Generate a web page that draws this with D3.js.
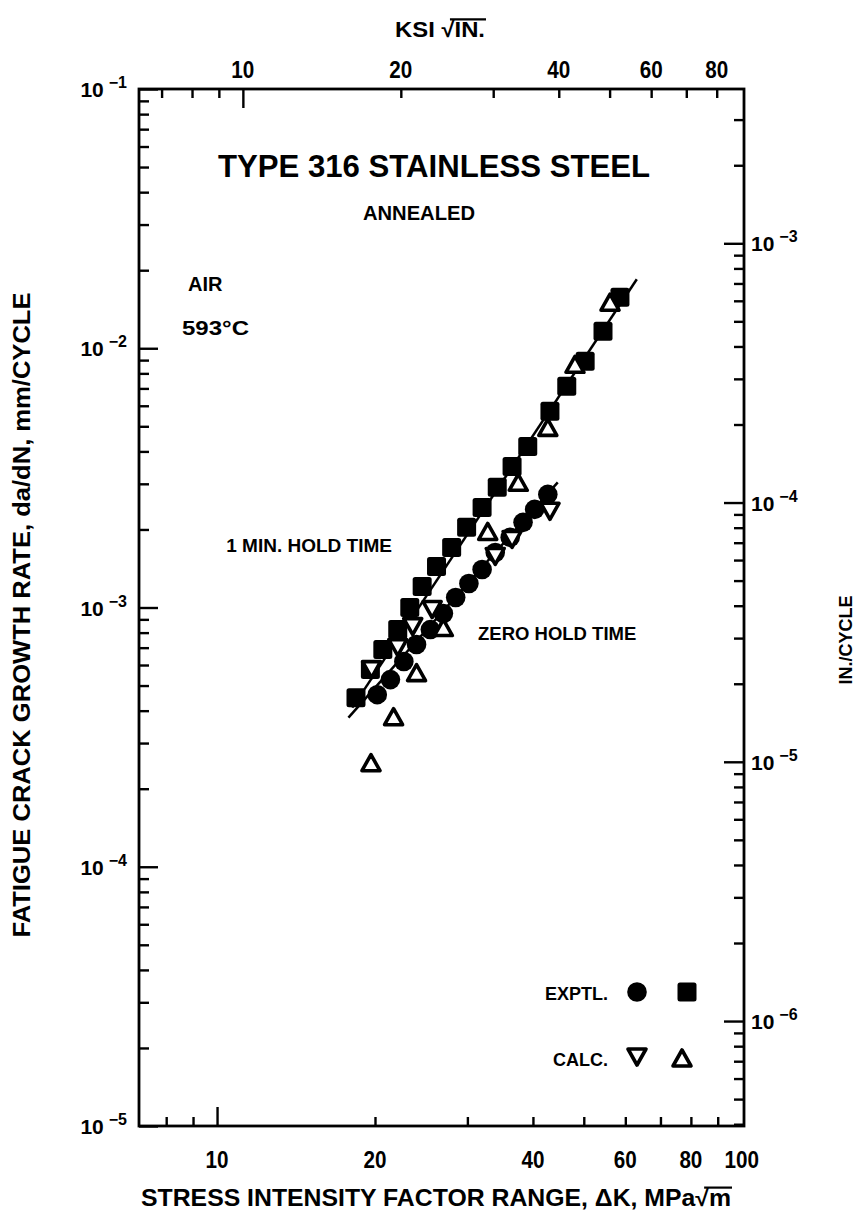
<!DOCTYPE html>
<html>
<head>
<meta charset="utf-8">
<script src="https://cdn.jsdelivr.net/npm/d3@7"></script>
<style>
  html, body { margin: 0; padding: 0; background: #fff; }
  svg { display: block; }
  text { font-family: "Liberation Sans", Arial, Helvetica, sans-serif; font-weight: bold; fill: #000; }
</style>
</head>
<body>
<svg id="chart" width="863" height="1225"></svg>
<script>
// ---------------- DATA ----------------
// Experimental, 1 min hold time (filled squares): ΔK (MPa√m), da/dN (mm/cycle)
const sqK    = [18.4, 19.6, 20.7, 22.1, 23.3, 24.6, 26.2, 28.0, 29.9, 32.0, 34.2, 36.5, 39.1, 43.1, 46.4, 50.3, 54.4, 58.6];
const sqRate = [4.49e-4, 5.76e-4, 6.88e-4, 8.23e-4, 1.00e-3, 1.205e-3, 1.44e-3, 1.705e-3, 2.04e-3, 2.43e-3, 2.91e-3, 3.50e-3, 4.18e-3, 5.71e-3, 7.13e-3, 8.91e-3, 1.163e-2, 1.573e-2];
// Experimental, zero hold time (filled circles)
const circK    = [20.2, 21.4, 22.7, 24.0, 25.5, 27.0, 28.5, 30.2, 32.0, 33.9, 36.2, 38.3, 40.3, 42.7];
const circRate = [4.61e-4, 5.27e-4, 6.19e-4, 7.20e-4, 8.22e-4, 9.48e-4, 1.093e-3, 1.238e-3, 1.402e-3, 1.63e-3, 1.864e-3, 2.13e-3, 2.39e-3, 2.73e-3];
// Calculated, 1 min hold time (open up-triangles)
const upK    = [19.65, 21.7, 24.0, 27.0, 32.8, 37.5, 42.7, 48.1, 56.1];
const upRate = [2.52e-4, 3.79e-4, 5.61e-4, 8.37e-4, 1.965e-3, 3.04e-3, 4.95e-3, 8.67e-3, 1.505e-2];
// Calculated, zero hold time (open down-triangles)
const dnK    = [19.7, 22.1, 23.6, 25.7, 33.9, 36.5, 43.1];
const dnRate = [5.76e-4, 7.0e-4, 8.44e-4, 9.82e-4, 1.574e-3, 1.83e-3, 2.35e-3];
// Fitted lines
const upperLineK = [18.1, 63.1];
const upperLineRate = [4.11e-4, 1.846e-2];
const lowerLineK = [17.8, 44.6];
const lowerLineRate = [3.76e-4, 3.04e-3];

// Axis ticks
const bottomTickLabels = [10, 20, 40, 60, 80, 100];
const bottomMinorTicks = [8, 9, 20, 30, 40, 50, 60, 70, 80, 90];
const bottomMajorTicks = [10];
const topTickLabels = [10, 20, 40, 60, 80];
const topMinorTicks = [7, 8, 9, 20, 30, 40, 50, 60, 70, 80];
const topMajorTicks = [10];
const leftExponents = [-1, -2, -3, -4, -5];
const rightExponents = [-3, -4, -5, -6];
const MM_PER_IN = 25.4;
const MPA_PER_KSI_DRAWN = 1.12; // as drawn on the original top scale (nominal 1.0988)

// ---------------- LAYOUT ----------------
const svg = d3.select("#chart");
const L = 139, R = 744, T = 89, B = 1126;

const x = d3.scaleLog().domain([7.1, 101]).range([L, R]);
const y = d3.scaleLog().domain([1e-5, 1e-1]).range([B, T]);
const xTop = d3.scaleLog().domain([7.1 / MPA_PER_KSI_DRAWN, 101 / MPA_PER_KSI_DRAWN]).range([L, R]);
const yRight = d3.scaleLog().domain([1e-5 / MM_PER_IN, 1e-1 / MM_PER_IN]).range([B, T]);

function minorLogTicks(scale) {
  const [a, b] = scale.domain();
  const out = [];
  for (let e = Math.floor(Math.log10(a)); e <= Math.ceil(Math.log10(b)); e++) {
    for (let m = 2; m <= 9; m++) {
      const v = m * Math.pow(10, e);
      if (v > a && v < b) out.push(v);
    }
  }
  return out;
}
function majorLogTicks(scale) {
  const [a, b] = scale.domain();
  const out = [];
  for (let e = Math.ceil(Math.log10(a) - 1e-9); e <= Math.floor(Math.log10(b) + 1e-9); e++) out.push(Math.pow(10, e));
  return out;
}

const axisStyle = g => {
  g.select(".domain").remove();
  g.selectAll(".tick line").attr("stroke", "#000").attr("stroke-width", 2.4);
  g.selectAll(".tick text").remove();
};

// left axis
svg.append("g").attr("transform", `translate(${L},0)`)
  .call(d3.axisLeft(y).tickValues(majorLogTicks(y)).tickSize(-19).tickSizeOuter(0)).call(axisStyle);
svg.append("g").attr("transform", `translate(${L},0)`)
  .call(d3.axisLeft(y).tickValues(minorLogTicks(y)).tickSize(-10).tickSizeOuter(0)).call(axisStyle);
// right axis (in/cycle)
svg.append("g").attr("transform", `translate(${R},0)`)
  .call(d3.axisRight(yRight).tickValues(majorLogTicks(yRight)).tickSize(-20).tickSizeOuter(0)).call(axisStyle);
svg.append("g").attr("transform", `translate(${R},0)`)
  .call(d3.axisRight(yRight).tickValues(minorLogTicks(yRight)).tickSize(-10).tickSizeOuter(0)).call(axisStyle);
// bottom axis
svg.append("g").attr("transform", `translate(0,${B})`)
  .call(d3.axisBottom(x).tickValues(bottomMinorTicks).tickSize(-9).tickSizeOuter(0)).call(axisStyle);
svg.append("g").attr("transform", `translate(0,${B})`)
  .call(d3.axisBottom(x).tickValues(bottomMajorTicks).tickSize(-19).tickSizeOuter(0)).call(axisStyle);
// top axis (ksi√in)
svg.append("g").attr("transform", `translate(0,${T})`)
  .call(d3.axisTop(xTop).tickValues(topMinorTicks).tickSize(-9).tickSizeOuter(0)).call(axisStyle);
svg.append("g").attr("transform", `translate(0,${T})`)
  .call(d3.axisTop(xTop).tickValues(topMajorTicks).tickSize(-19).tickSizeOuter(0)).call(axisStyle);

// frame
svg.append("rect").attr("x", L).attr("y", T).attr("width", R - L).attr("height", B - T)
  .attr("fill", "none").attr("stroke", "#000").attr("stroke-width", 2.8);

// tick labels (condensed digits)
const tickFont = 23;
const digitW = 11.5;
svg.append("g").selectAll("text").data(bottomTickLabels).join("text")
  .attr("x", d => x(d)).attr("y", B + 42).attr("text-anchor", "middle")
  .attr("font-size", tickFont).attr("textLength", d => String(d).length * digitW)
  .attr("lengthAdjust", "spacingAndGlyphs").text(d => d);
svg.append("g").selectAll("text").data(topTickLabels).join("text")
  .attr("x", d => xTop(d)).attr("y", T - 11).attr("text-anchor", "middle")
  .attr("font-size", tickFont).attr("textLength", d => String(d).length * digitW)
  .attr("lengthAdjust", "spacingAndGlyphs").text(d => d);

function expLabel(g, xPos, yPos, e, anchor) {
  const t = g.append("text").attr("x", xPos).attr("y", yPos).attr("text-anchor", anchor).attr("font-size", 21);
  t.append("tspan").text("10");
  t.append("tspan").attr("dx", 5).attr("dy", -9).attr("font-size", 16).text("\u2212" + Math.abs(e));
}
const leftLab = svg.append("g");
leftExponents.forEach(e => expLabel(leftLab, L - 12, y(Math.pow(10, e)) + 8, e, "end"));
const rightLab = svg.append("g");
rightExponents.forEach(e => expLabel(rightLab, R + 7, yRight(Math.pow(10, e)) + 8, e, "start"));

// fitted lines
const line = d3.line().x(d => x(d[0])).y(d => y(d[1]));
svg.append("path").datum(d3.zip(upperLineK, upperLineRate)).attr("d", line)
  .attr("fill", "none").attr("stroke", "#000").attr("stroke-width", 2.5);
svg.append("path").datum(d3.zip(lowerLineK, lowerLineRate)).attr("d", line)
  .attr("fill", "none").attr("stroke", "#000").attr("stroke-width", 2.5);

// markers
const S = 19;
function drawSquare(g, cx, cy) {
  g.append("rect").attr("x", cx - S / 2).attr("y", cy - S / 2).attr("width", S).attr("height", S)
    .attr("rx", 2.5).attr("fill", "#000");
}
function drawCircle(g, cx, cy) {
  g.append("circle").attr("cx", cx).attr("cy", cy).attr("r", 9.8).attr("fill", "#000");
}
function triPath(cx, cy, up) {
  const w = 9, h = 8;
  return up ? `M${cx},${cy - h}L${cx + w},${cy + h}L${cx - w},${cy + h}Z`
            : `M${cx},${cy + h}L${cx + w},${cy - h}L${cx - w},${cy - h}Z`;
}
function drawTri(g, cx, cy, up) {
  g.append("path").attr("d", triPath(cx, cy, up)).attr("fill", "#fff")
    .attr("stroke", "#000").attr("stroke-width", 3.6).attr("stroke-linejoin", "round");
}
const mk = svg.append("g");
d3.zip(sqK, sqRate).forEach(d => drawSquare(mk, x(d[0]), y(d[1])));
d3.zip(circK, circRate).forEach(d => drawCircle(mk, x(d[0]), y(d[1])));
d3.zip(dnK, dnRate).forEach(d => drawTri(mk, x(d[0]), y(d[1]), false));
d3.zip(upK, upRate).forEach(d => drawTri(mk, x(d[0]), y(d[1]), true));

// legend
const lg = svg.append("g");
lg.append("text").attr("x", 608).attr("y", 1000).attr("text-anchor", "end").attr("font-size", 18).text("EXPTL.");
lg.append("text").attr("x", 608).attr("y", 1066).attr("text-anchor", "end").attr("font-size", 18).text("CALC.");
drawCircle(lg, 637, 992);
drawSquare(lg, 687, 992);
drawTri(lg, 637, 1057, false);
drawTri(lg, 682, 1058, true);

// annotations
const ann = svg.append("g");
ann.append("text").attr("x", 434).attr("y", 177).attr("text-anchor", "middle").attr("font-size", 31)
  .attr("textLength", 432).attr("lengthAdjust", "spacingAndGlyphs").text("TYPE 316 STAINLESS STEEL");
ann.append("text").attr("x", 419).attr("y", 220).attr("text-anchor", "middle").attr("font-size", 20)
  .attr("textLength", 112).attr("lengthAdjust", "spacingAndGlyphs").text("ANNEALED");
ann.append("text").attr("x", 188).attr("y", 291).attr("font-size", 20).text("AIR");
ann.append("text").attr("x", 182).attr("y", 335).attr("font-size", 20)
  .attr("textLength", 67).attr("lengthAdjust", "spacingAndGlyphs").text("593°C");
ann.append("text").attr("x", 392).attr("y", 552).attr("text-anchor", "end").attr("font-size", 19)
  .text("1 MIN. HOLD TIME");
ann.append("text").attr("x", 478).attr("y", 640).attr("font-size", 18.5)
  .text("ZERO HOLD TIME");

// axis titles
svg.append("text").attr("transform", "translate(30,615) rotate(-90)").attr("text-anchor", "middle")
  .attr("font-size", 23).attr("textLength", 645).attr("lengthAdjust", "spacingAndGlyphs")
  .text("FATIGUE CRACK GROWTH RATE, da/dN, mm/CYCLE");
svg.append("text").attr("transform", "translate(852,640) rotate(-90)").attr("text-anchor", "middle")
  .attr("font-size", 18).text("IN./CYCLE");

function titleWithRadical(xc, yb, size, len, before, radicand) {
  const t = svg.append("text").attr("x", xc).attr("y", yb).attr("text-anchor", "middle").attr("font-size", size)
    .attr("textLength", len).attr("lengthAdjust", "spacingAndGlyphs");
  t.append("tspan").text(before + "\u221A");
  t.append("tspan").text(radicand);
  const n = t.node();
  const i0 = (before + "\u221A").length;
  const i1 = i0 + radicand.length - 1;
  const s = n.getStartPositionOfChar(i0 - 1);
  const sEnd = n.getEndPositionOfChar(i0 - 1);
  const e = n.getEndPositionOfChar(i1);
  svg.append("line").attr("x1", (s.x + sEnd.x) / 2 + 2).attr("x2", e.x + 1)
    .attr("y1", yb - size * 0.8).attr("y2", yb - size * 0.8)
    .attr("stroke", "#000").attr("stroke-width", 2.2);
}
titleWithRadical(436, 1206, 23, 590, "STRESS INTENSITY FACTOR RANGE, \u0394K, MPa", "m");
titleWithRadical(440, 37, 22, 90, "KSI ", "IN.");
</script>
</body>
</html>
